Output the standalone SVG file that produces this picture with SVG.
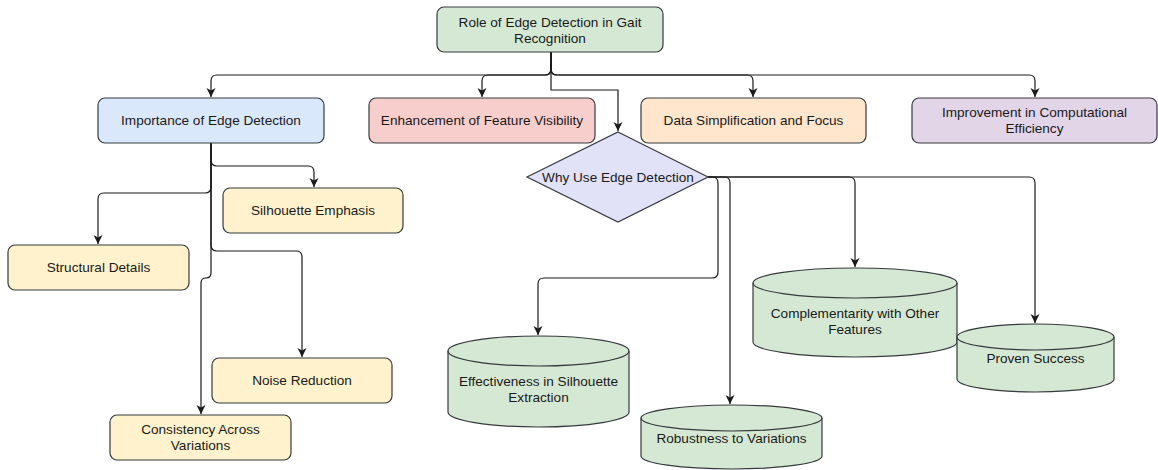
<svg xmlns="http://www.w3.org/2000/svg" width="1158" height="470" viewBox="0 0 1158 470">
  <style>
    .box { stroke: #36393d; stroke-width: 1.2; }
    .lbl { font-family: "Liberation Sans", Arial, Helvetica, sans-serif; font-size: 13.6px; fill: #1a1a1a; text-anchor: middle; dominant-baseline: central; }
    .edge { fill: none; stroke: #1a1a1a; stroke-width: 1.2; marker-end: url(#arrow); }
    .green { fill: #d5e8d4; }
    .blue { fill: #dae8fc; }
    .red { fill: #f8cecc; }
    .orange { fill: #ffe6cc; }
    .purple { fill: #e1d5e7; }
    .yellow { fill: #fff2cc; }
    .lav { fill: #e1e1f7; }
  </style>
  <defs>
    <marker id="arrow" markerUnits="userSpaceOnUse" markerWidth="10" markerHeight="10" refX="9" refY="4.5" orient="auto">
      <path d="M0,0 L9,4.5 L0,9 L2.5,4.5 Z" fill="#1a1a1a"/>
    </marker>
  </defs>

  <rect width="1158" height="470" fill="#ffffff"/>

  <!-- connectors -->
  <g id="connectors">
    <path class="edge" d="M551,52 V69 Q551,75 545,75 H217 Q211,75 211,81 V97"/>
    <path class="edge" d="M551,52 V69 Q551,75 545,75 H488 Q482,75 482,81 V97"/>
    <path class="edge" d="M551,52 V69 Q551,75 557,75 H747 Q753,75 753,81 V97"/>
    <path class="edge" d="M551,52 V69 Q551,75 557,75 H1029 Q1035,75 1035,81 V97"/>
    <path class="edge" d="M551,52 V90 H618 V131"/>

    <path class="edge" d="M211,143 V160 Q211,166 217,166 H308 Q314,166 314,172 V187"/>
    <path class="edge" d="M211,143 V187 Q211,193 205,193 H104 Q98,193 98,199 V244"/>
    <path class="edge" d="M211,143 V245 Q211,251 217,251 H296 Q302,251 302,257 V357"/>
    <path class="edge" d="M211,143 V273 Q211,278 206,278 Q201,278 201,283 V414"/>

    <path class="edge" d="M708,177 H849 Q855,177 855,183 V267"/>
    <path class="edge" d="M708,177 H1029 Q1035,177 1035,183 V323"/>
    <path class="edge" d="M708,177 H712 Q718,177 718,183 V272 Q718,278 712,278 H544 Q538,278 538,284 V335"/>
    <path class="edge" d="M708,177 H724 Q730,177 730,183 V404"/>
  </g>

  <!-- top level -->
  <g id="root">
    <rect class="box green" x="437" y="7" width="226" height="45" rx="7"/>
    <text class="lbl" x="550" y="22">Role of Edge Detection in Gait</text>
    <text class="lbl" x="550" y="38">Recognition</text>
  </g>

  <g id="importance">
    <rect class="box blue" x="98" y="98" width="226" height="45" rx="7"/>
    <text class="lbl" x="211" y="120.5">Importance of Edge Detection</text>
  </g>
  <g id="enhancement">
    <rect class="box red" x="369" y="98" width="226" height="45" rx="7"/>
    <text class="lbl" x="482" y="120.5">Enhancement of Feature Visibility</text>
  </g>
  <g id="simplification">
    <rect class="box orange" x="641" y="98" width="225" height="45" rx="7"/>
    <text class="lbl" x="753.5" y="120.5">Data Simplification and Focus</text>
  </g>
  <g id="efficiency">
    <rect class="box purple" x="912" y="98" width="245" height="45" rx="7"/>
    <text class="lbl" x="1034.5" y="112.5">Improvement in Computational</text>
    <text class="lbl" x="1034.5" y="128.5">Efficiency</text>
  </g>

  <g id="why">
    <polygon class="box lav" points="618,132 708,177 618,222 527,177"/>
    <text class="lbl" x="618" y="177">Why Use Edge Detection</text>
  </g>

  <!-- importance children -->
  <g id="silhouette">
    <rect class="box yellow" x="223" y="188" width="180" height="45" rx="7"/>
    <text class="lbl" x="313" y="210.5">Silhouette Emphasis</text>
  </g>
  <g id="structural">
    <rect class="box yellow" x="8" y="245" width="181" height="45" rx="7"/>
    <text class="lbl" x="98.5" y="267.5">Structural Details</text>
  </g>
  <g id="noise">
    <rect class="box yellow" x="212" y="358" width="180" height="45" rx="7"/>
    <text class="lbl" x="302" y="380.5">Noise Reduction</text>
  </g>
  <g id="consistency">
    <rect class="box yellow" x="110" y="415" width="181" height="45" rx="7"/>
    <text class="lbl" x="200.5" y="429.5">Consistency Across</text>
    <text class="lbl" x="200.5" y="445.5">Variations</text>
  </g>

  <!-- why children (cylinders) -->
  <g id="effectiveness">
    <path class="box green" d="M448,351 A90.5,15 0 0 1 629,351 V412 A90.5,15 0 0 1 448,412 Z"/>
    <path class="box" fill="none" d="M448,351 A90.5,15 0 0 0 629,351"/>
    <text class="lbl" x="538.5" y="381">Effectiveness in Silhouette</text>
    <text class="lbl" x="538.5" y="397">Extraction</text>
  </g>
  <g id="robustness">
    <path class="box green" d="M641,418 A90.5,13 0 0 1 822,418 V456 A90.5,13 0 0 1 641,456 Z"/>
    <path class="box" fill="none" d="M641,418 A90.5,13 0 0 0 822,418"/>
    <text class="lbl" x="731.5" y="438">Robustness to Variations</text>
  </g>
  <g id="complementarity">
    <path class="box green" d="M753,283 A102,15 0 0 1 957,283 V342 A102,15 0 0 1 753,342 Z"/>
    <path class="box" fill="none" d="M753,283 A102,15 0 0 0 957,283"/>
    <text class="lbl" x="855" y="313">Complementarity with Other</text>
    <text class="lbl" x="855" y="329">Features</text>
  </g>
  <g id="proven">
    <path class="box green" d="M957,337 A78.5,13 0 0 1 1114,337 V379 A78.5,13 0 0 1 957,379 Z"/>
    <path class="box" fill="none" d="M957,337 A78.5,13 0 0 0 1114,337"/>
    <text class="lbl" x="1035.5" y="358">Proven Success</text>
  </g>
</svg>
